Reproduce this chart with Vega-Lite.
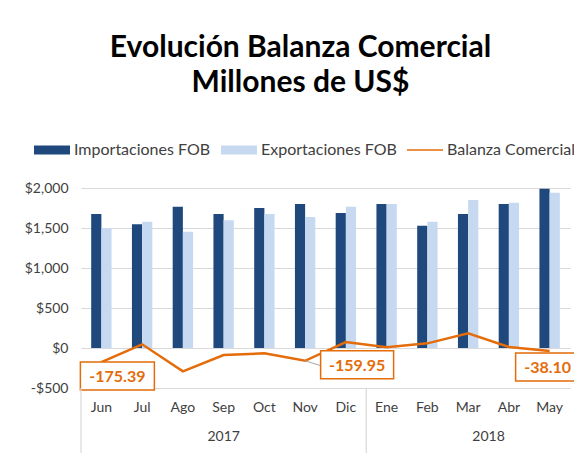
{
  "$schema": "https://vega.github.io/schema/vega-lite/v6.json",
  "autosize": {"type": "none"},
  "width": 489,
  "height": 200,
  "padding": {"left": 81, "top": 188, "right": 4, "bottom": 65},
  "background": "white",
  "config": {
    "view": {"stroke": null},
    "font": "Lato",
    "locale": {"number": {"decimal": ".", "thousands": ",", "grouping": [3], "currency": ["$", ""], "minus": "-"}}
  },
  "title": {
    "text": ["Evolución Balanza Comercial", "Millones de US$"],
    "font": "Lato",
    "fontSize": 30,
    "fontWeight": "bold",
    "color": "#000000",
    "anchor": "middle",
    "dx": -25,
    "offset": 34,
    "lineHeight": 35
  },
  "data": {
    "values": [
      {"mes": "Jun", "anio": "2017", "serie": "Importaciones FOB", "valor": 1675},
      {"mes": "Jul", "anio": "2017", "serie": "Importaciones FOB", "valor": 1546},
      {"mes": "Ago", "anio": "2017", "serie": "Importaciones FOB", "valor": 1767},
      {"mes": "Sep", "anio": "2017", "serie": "Importaciones FOB", "valor": 1675},
      {"mes": "Oct", "anio": "2017", "serie": "Importaciones FOB", "valor": 1750},
      {"mes": "Nov", "anio": "2017", "serie": "Importaciones FOB", "valor": 1800},
      {"mes": "Dic", "anio": "2017", "serie": "Importaciones FOB", "valor": 1687},
      {"mes": "Ene", "anio": "2018", "serie": "Importaciones FOB", "valor": 1800},
      {"mes": "Feb", "anio": "2018", "serie": "Importaciones FOB", "valor": 1529},
      {"mes": "Mar", "anio": "2018", "serie": "Importaciones FOB", "valor": 1675},
      {"mes": "Abr", "anio": "2018", "serie": "Importaciones FOB", "valor": 1800},
      {"mes": "May", "anio": "2018", "serie": "Importaciones FOB", "valor": 1992},
      {"mes": "Jun", "anio": "2017", "serie": "Exportaciones FOB", "valor": 1496},
      {"mes": "Jul", "anio": "2017", "serie": "Exportaciones FOB", "valor": 1579},
      {"mes": "Ago", "anio": "2017", "serie": "Exportaciones FOB", "valor": 1454},
      {"mes": "Sep", "anio": "2017", "serie": "Exportaciones FOB", "valor": 1596},
      {"mes": "Oct", "anio": "2017", "serie": "Exportaciones FOB", "valor": 1675},
      {"mes": "Nov", "anio": "2017", "serie": "Exportaciones FOB", "valor": 1637},
      {"mes": "Dic", "anio": "2017", "serie": "Exportaciones FOB", "valor": 1767},
      {"mes": "Ene", "anio": "2018", "serie": "Exportaciones FOB", "valor": 1800},
      {"mes": "Feb", "anio": "2018", "serie": "Exportaciones FOB", "valor": 1579},
      {"mes": "Mar", "anio": "2018", "serie": "Exportaciones FOB", "valor": 1850},
      {"mes": "Abr", "anio": "2018", "serie": "Exportaciones FOB", "valor": 1817},
      {"mes": "May", "anio": "2018", "serie": "Exportaciones FOB", "valor": 1942},
      {"mes": "Jun", "anio": "2017", "serie": "Balanza Comercial", "valor": -175.39},
      {"mes": "Jul", "anio": "2017", "serie": "Balanza Comercial", "valor": 46},
      {"mes": "Ago", "anio": "2017", "serie": "Balanza Comercial", "valor": -292},
      {"mes": "Sep", "anio": "2017", "serie": "Balanza Comercial", "valor": -88},
      {"mes": "Oct", "anio": "2017", "serie": "Balanza Comercial", "valor": -67},
      {"mes": "Nov", "anio": "2017", "serie": "Balanza Comercial", "valor": -159.95},
      {"mes": "Dic", "anio": "2017", "serie": "Balanza Comercial", "valor": 75},
      {"mes": "Ene", "anio": "2018", "serie": "Balanza Comercial", "valor": 8},
      {"mes": "Feb", "anio": "2018", "serie": "Balanza Comercial", "valor": 58},
      {"mes": "Mar", "anio": "2018", "serie": "Balanza Comercial", "valor": 183},
      {"mes": "Abr", "anio": "2018", "serie": "Balanza Comercial", "valor": 12},
      {"mes": "May", "anio": "2018", "serie": "Balanza Comercial", "valor": -38.10}
    ]
  },
  "encoding": {
    "x": {
      "field": "mes",
      "type": "nominal",
      "sort": ["Jun", "Jul", "Ago", "Sep", "Oct", "Nov", "Dic", "Ene", "Feb", "Mar", "Abr", "May"],
      "scale": {"paddingInner": 0.5, "paddingOuter": 0.25},
      "axis": {
        "title": null,
        "labelAngle": 0,
        "domain": false,
        "ticks": false,
        "grid": false,
        "labelPadding": 12,
        "labelFontSize": 14,
        "labelFont": "Lato",
        "labelColor": "#404040"
      }
    },
    "y": {
      "field": "valor",
      "type": "quantitative",
      "scale": {"domain": [-500, 2000], "nice": false, "zero": false},
      "axis": {
        "title": null,
        "values": [-500, 0, 500, 1000, 1500, 2000],
        "labelExpr": "datum.value < 0 ? '-$' + format(-datum.value, ',') : '$' + format(datum.value, ',')",
        "domain": false,
        "ticks": false,
        "grid": true,
        "gridColor": "#d9d9d9",
        "gridWidth": 1.2,
        "labelPadding": 13,
        "labelFontSize": 14,
        "labelFont": "Lato",
        "labelColor": "#404040"
      }
    }
  },
  "layer": [
    {
      "transform": [{"filter": "datum.serie !== 'Balanza Comercial'"}],
      "mark": {"type": "bar"},
      "encoding": {
        "xOffset": {"field": "serie", "type": "nominal", "sort": ["Importaciones FOB", "Exportaciones FOB"], "scale": {"paddingInner": 0, "paddingOuter": 0}},
        "color": {
          "field": "serie",
          "type": "nominal",
          "scale": {
            "domain": ["Importaciones FOB", "Exportaciones FOB", "Balanza Comercial"],
            "range": ["#1F497D", "#C6D9F1", "#E46C0A"]
          },
          "legend": {
            "title": null,
            "orient": "none",
            "direction": "horizontal",
            "legendX": -47,
            "legendY": -56,
            "symbolSize": 1296,
            "symbolStrokeWidth": 0,
            "labelFontSize": 16,
            "labelFont": "Lato",
            "labelColor": "#404040",
            "labelOffset": 4,
            "columnPadding": 10,
            "encode": {
              "symbols": {
                "update": {
                  "shape": {"signal": "datum.value === 'Balanza Comercial' ? 'M-1,-0.045L1,-0.045L1,0.045L-1,0.045Z' : 'M-1,-0.25L1,-0.25L1,0.25L-1,0.25Z'"},
                  "fill": {"scale": "color", "field": "value"},
                  "stroke": {"value": "transparent"},
                  "opacity": {"value": 1}
                }
              }
            }
          }
        }
      }
    },
    {
      "transform": [{"filter": "datum.serie === 'Balanza Comercial'"}],
      "mark": {"type": "line", "strokeWidth": 2.5},
      "encoding": {
        "color": {"field": "serie", "type": "nominal"}
      }
    },
    {
      "transform": [{"filter": "datum.serie === 'Balanza Comercial' && datum.mes === 'Nov'"}],
      "mark": {"type": "rule", "color": "#a6a6a6", "strokeWidth": 1, "x2Offset": 16, "y2Offset": 5},
      "encoding": {
        "x2": {"field": "mes"},
        "y2": {"field": "valor"}
      }
    },
    {
      "transform": [{"filter": "datum.serie === 'Balanza Comercial' && datum.mes === 'Jun'"}],
      "mark": {"type": "point", "shape": "M-1,-0.378L1,-0.378L1,0.378L-1,0.378Z", "size": 5476, "filled": true, "fill": "white", "stroke": "#E46C0A", "strokeWidth": 1.5, "opacity": 1, "xOffset": 16, "yOffset": 14},
      "encoding": {}
    },
    {
      "transform": [{"filter": "datum.serie === 'Balanza Comercial' && datum.mes === 'Jun'"}],
      "mark": {"type": "text", "font": "Lato", "fontSize": 16, "fontWeight": "bold", "color": "#E46C0A", "xOffset": 16, "yOffset": 15},
      "encoding": {"text": {"field": "valor", "type": "quantitative", "format": ".2f"}}
    },
    {
      "transform": [{"filter": "datum.serie === 'Balanza Comercial' && datum.mes === 'Nov'"}],
      "mark": {"type": "point", "shape": "M-1,-0.383L1,-0.383L1,0.383L-1,0.383Z", "size": 5329, "filled": true, "fill": "white", "stroke": "#E46C0A", "strokeWidth": 1.5, "opacity": 1, "xOffset": 52, "yOffset": 4},
      "encoding": {}
    },
    {
      "transform": [{"filter": "datum.serie === 'Balanza Comercial' && datum.mes === 'Nov'"}],
      "mark": {"type": "text", "font": "Lato", "fontSize": 16, "fontWeight": "bold", "color": "#E46C0A", "xOffset": 52, "yOffset": 5},
      "encoding": {"text": {"field": "valor", "type": "quantitative", "format": ".2f"}}
    },
    {
      "transform": [{"filter": "datum.serie === 'Balanza Comercial' && datum.mes === 'May'"}],
      "mark": {"type": "point", "shape": "M-1,-0.424L1,-0.424L1,0.424L-1,0.424Z", "size": 4356, "filled": true, "fill": "white", "stroke": "#E46C0A", "strokeWidth": 1.5, "opacity": 1, "xOffset": -1, "yOffset": 16},
      "encoding": {}
    },
    {
      "transform": [{"filter": "datum.serie === 'Balanza Comercial' && datum.mes === 'May'"}],
      "mark": {"type": "text", "font": "Lato", "fontSize": 16, "fontWeight": "bold", "color": "#E46C0A", "xOffset": -2, "yOffset": 17},
      "encoding": {"text": {"field": "valor", "type": "quantitative", "format": ".2f"}}
    },
    {
      "transform": [{"filter": "datum.serie === 'Importaciones FOB' && (datum.mes === 'Jun' || datum.mes === 'Ene')"}],
      "mark": {"type": "rule", "color": "#d9d9d9", "strokeWidth": 1.2, "y2Offset": 70},
      "encoding": {
        "x": {"field": "mes", "type": "nominal", "sort": ["Jun", "Jul", "Ago", "Sep", "Oct", "Nov", "Dic", "Ene", "Feb", "Mar", "Abr", "May"], "bandPosition": -0.5},
        "y": {"datum": -500},
        "y2": {"datum": -500}
      }
    },
    {
      "transform": [{"filter": "datum.serie === 'Importaciones FOB' && datum.mes === 'Sep'"}],
      "mark": {"type": "text", "font": "Lato", "fontSize": 14, "color": "#404040", "baseline": "middle", "yOffset": 49},
      "encoding": {
        "y": {"datum": -500},
        "text": {"field": "anio"}
      }
    },
    {
      "transform": [{"filter": "datum.serie === 'Importaciones FOB' && datum.mes === 'Mar'"}],
      "mark": {"type": "text", "font": "Lato", "fontSize": 14, "color": "#404040", "baseline": "middle", "yOffset": 49},
      "encoding": {
        "x": {"field": "mes", "type": "nominal", "sort": ["Jun", "Jul", "Ago", "Sep", "Oct", "Nov", "Dic", "Ene", "Feb", "Mar", "Abr", "May"], "bandPosition": 1.5},
        "y": {"datum": -500},
        "text": {"field": "anio"}
      }
    }
  ]
}
